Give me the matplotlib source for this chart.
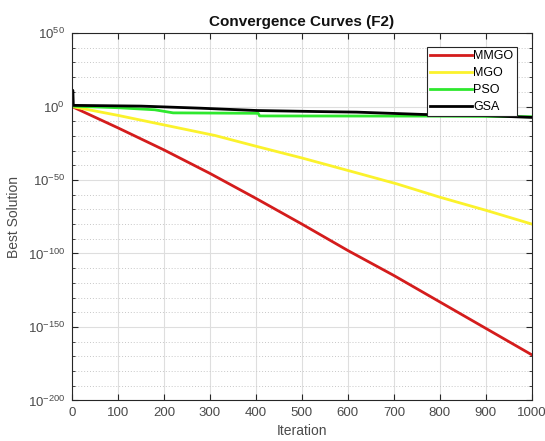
import matplotlib
matplotlib.use("Agg")
import matplotlib.pyplot as plt
import numpy as np
from matplotlib.ticker import FixedLocator, LogFormatterSciNotation, NullFormatter

plt.rcParams['font.family'] = ['Liberation Sans', 'DejaVu Sans']

# anchor points: iteration and log10(best solution)
mmgo_iter = [0, 100, 200, 300, 400, 500, 600, 700, 800, 900, 1000]
mmgo_log = [0, -14.5, -29.5, -45.5, -62.5, -80, -98, -115, -133, -151, -169]

mgo_iter = [0, 100, 200, 311, 400, 500, 600, 706, 800, 901, 1000]
mgo_log = [0, -6, -12.5, -19.7, -27, -35, -43.5, -52.6, -61.7, -70.7, -80]

pso_iter = [0, 100, 180, 220, 405, 408, 770, 1000]
pso_log = [0.3, -0.8, -2.2, -4.3, -4.6, -6.4, -6.5, -6.9]

gsa_iter = [0, 2, 3, 150, 278, 402, 532, 619, 765, 900, 1000]
gsa_log = [11, 11, 0.8, 0.3, -1.1, -2.7, -3.4, -3.8, -5.4, -6.2, -7.4]

labels = ['MMGO', 'MGO', 'PSO', 'GSA']
colors = ['#d41c1c', '#fbf22c', '#2ee82e', '#000000']

fig = plt.figure(figsize=(5.45, 4.41), dpi=100)
ax = fig.add_axes([0.132, 0.092, 0.844, 0.833])

series = [(mmgo_iter, mmgo_log), (mgo_iter, mgo_log), (pso_iter, pso_log), (gsa_iter, gsa_log)]
for (it, lg), lab, c in zip(series, labels, colors):
    ax.semilogy(it, 10.0 ** np.array(lg), color=c, linewidth=2, label=lab)

ax.set_xlim(0, 1000)
ax.set_ylim(1e-200, 1e50)
ax.set_xticks(np.arange(0, 1001, 100))
ax.yaxis.set_major_locator(FixedLocator([10.0 ** e for e in range(-200, 51, 50)]))
ax.yaxis.set_major_formatter(LogFormatterSciNotation())
ax.yaxis.set_minor_locator(FixedLocator([10.0 ** e for e in range(-200, 51, 10) if e % 50 != 0]))
ax.yaxis.set_minor_formatter(NullFormatter())

ax.grid(True, which='major', color='#dedede', linewidth=0.8)
ax.grid(True, which='minor', axis='y', color='#c8c8c8', linestyle=(0, (1, 2)), linewidth=0.7)
ax.set_axisbelow(True)

ax.tick_params(which='both', direction='in', top=True, right=True, labelsize=9.5, colors='#262626',
               labelcolor='#4a4a4a')
ax.tick_params(which='major', length=4, pad=5)
ax.tick_params(which='minor', length=2)
for s in ax.spines.values():
    s.set_color('#262626')
    s.set_linewidth(0.8)

ax.set_title('Convergence Curves (F2)', fontsize=11, fontweight='bold', color='#111111', pad=5)
ax.set_xlabel('Iteration', fontsize=10, color='#4a4a4a', labelpad=3)
ax.set_ylabel('Best Solution', fontsize=10, color='#4a4a4a', labelpad=5)

leg = ax.legend(loc='upper right', bbox_to_anchor=(0.967, 0.962), fontsize=9, handlelength=3.4,
                handletextpad=0.1, borderpad=0.25, labelspacing=0.4, fancybox=False, framealpha=1,
                edgecolor='#262626', borderaxespad=0)
leg.get_frame().set_linewidth(0.8)

fig.savefig('out.png', dpi=100)
